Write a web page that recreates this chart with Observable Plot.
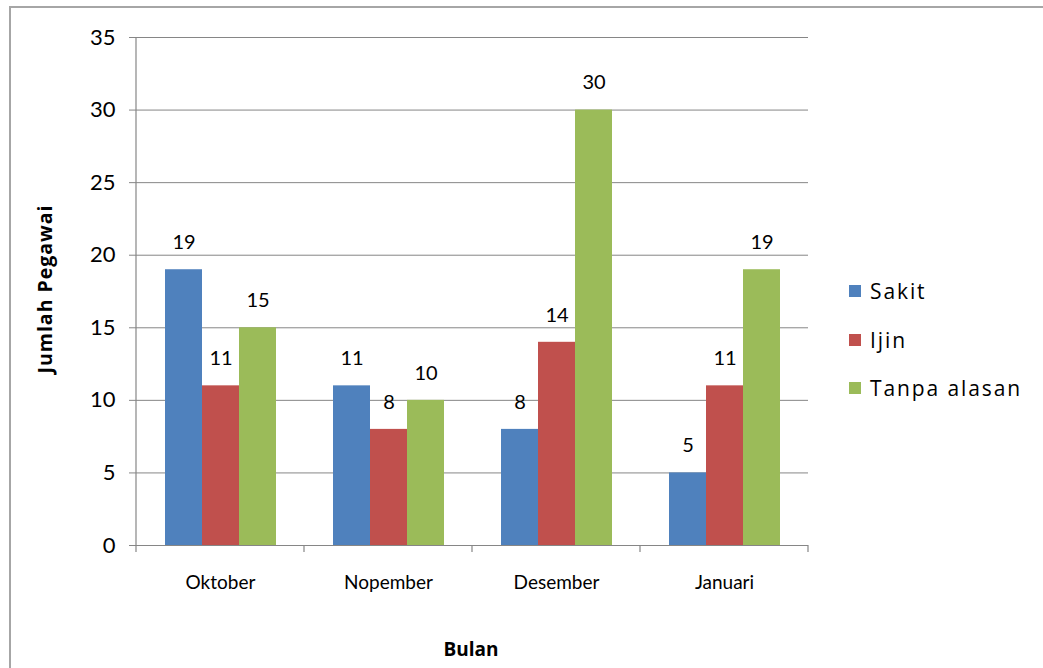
<!DOCTYPE html>
<html><head><meta charset="utf-8">
<script src="https://cdn.jsdelivr.net/npm/d3@7"></script>
<script src="https://cdn.jsdelivr.net/npm/@observablehq/plot@0.6"></script>
<style>
body{margin:0;background:#fff;}
#wrap{position:relative;width:1043px;height:668px;overflow:hidden;font-family:Lato,"Open Sans",sans-serif;color:#000;}
#border{position:absolute;left:9px;top:6px;width:1100px;height:700px;border-left:2px solid #a6a6a6;border-top:2px solid #a6a6a6;}
#chart{position:absolute;left:0;top:0;}
#ytitle{position:absolute;left:44px;top:289px;transform:translate(-50%,-50%) rotate(-90deg);font-family:"Open Sans",sans-serif;font-weight:bold;font-size:19.5px;letter-spacing:1px;white-space:nowrap;}
#xtitle{position:absolute;left:471px;top:649px;transform:translate(-50%,-50%);font-family:"Open Sans",sans-serif;font-weight:bold;font-size:19px;white-space:nowrap;}
#legend{position:absolute;left:849px;top:267px;}
.item{display:flex;align-items:center;height:48.5px;font-family:"Open Sans",sans-serif;font-size:21px;letter-spacing:1.9px;}
.sw{width:12px;height:12px;margin-right:9px;}
</style></head>
<body>
<div id="wrap">
  <div id="border"></div>
  <div id="chart"></div>
  <div id="ytitle">Jumlah Pegawai</div>
  <div id="xtitle">Bulan</div>
  <div id="legend"></div>
</div>
<script>
const months = ["Oktober", "Nopember", "Desember", "Januari"];
const seriesNames = ["Sakit", "Ijin", "Tanpa alasan"];
const sakit = [19, 11, 8, 5];
const ijin = [11, 8, 14, 11];
const tanpaAlasan = [15, 10, 30, 19];
const colors = ["#4F81BD", "#C0504D", "#9BBB59"];
const yTicks = [0, 5, 10, 15, 20, 25, 30, 35];

const seriesValues = [sakit, ijin, tanpaAlasan];
const data = [];
months.forEach((m, i) => seriesNames.forEach((s, j) => data.push({month: m, series: s, value: seriesValues[j][i]})));

const axisColor = "#868686";
const plot = Plot.plot({
  width: 1043, height: 668,
  marginTop: 37, marginLeft: 135, marginRight: 235, marginBottom: 123,
  style: {fontFamily: "Lato, 'Open Sans', sans-serif", background: "transparent", color: "#000"},
  fx: {domain: months, padding: 0, label: null},
  x: {domain: seriesNames, paddingInner: 0, paddingOuter: 0.75, axis: null},
  y: {domain: [0, 35], label: null},
  color: {domain: seriesNames, range: colors},
  marks: [
    Plot.gridY(yTicks.slice(1), {stroke: axisColor, strokeOpacity: 1, strokeWidth: 1}),
    Plot.barY(data, {fx: "month", x: "series", y: "value", fill: "series"}),
    Plot.text(data, {fx: "month", x: "series", y: "value", text: d => String(d.value), dy: -27, fontSize: 20, fill: "#000"}),
    Plot.axisY(yTicks, {tickSize: 7, tickPadding: 14, fontSize: 22, label: null, stroke: axisColor, fill: "#000"}),
    Plot.ruleY([0], {stroke: axisColor, strokeWidth: 1.2}),
    Plot.axisFx({anchor: "bottom", tickSize: 0, tickPadding: 30, fontSize: 19, label: null, fill: "#000"})
  ]
});

// category boundary ticks and y-axis line, positioned from the plot's own scales
const fx = plot.scale("fx"), y = plot.scale("y");
const edges = months.map(m => fx.apply(m)).concat([fx.apply(months[months.length - 1]) + fx.bandwidth]);
const svg = d3.select(plot);
const g = svg.append("g").attr("stroke", axisColor).attr("stroke-width", 1.2);
edges.forEach(x => g.append("line").attr("x1", x).attr("x2", x).attr("y1", y.apply(0)).attr("y2", y.apply(0) + 7));
g.append("line").attr("x1", edges[0]).attr("x2", edges[0]).attr("y1", y.apply(35)).attr("y2", y.apply(0));

document.getElementById("chart").appendChild(plot);

const legend = d3.select("#legend");
seriesNames.forEach((s, i) => {
  const it = legend.append("div").attr("class", "item");
  it.append("div").attr("class", "sw").style("background", colors[i]);
  it.append("span").text(s);
});
</script>
</body></html>
